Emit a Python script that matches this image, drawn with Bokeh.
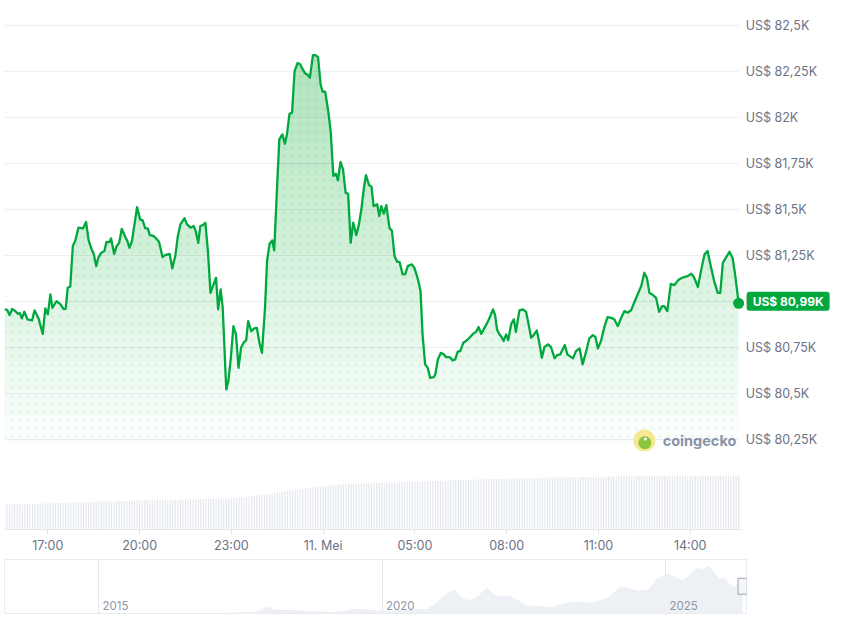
import numpy as np
from bokeh.plotting import figure
from bokeh.models import Range1d, FixedTicker
from bokeh.layouts import column
from bokeh.embed import file_html
from bokeh.resources import INLINE
from bokeh.core.properties import value

# ---------------- data ----------------
START = "2026-05-10 15:35"  # t_min = minutes after this moment
t_min = [0,5,10,15,21,26,30,34,39,45,54,59,67,75,80,85,90,94,102,110,116,120,124,129,134,139,145,154,160,165,
         171,175,180,184,190,196,200,206,209,215,220,225,230,237,241,245,250,255,260,266,271,276,281,285,292,297,303,310,315,324,
         329,335,340,345,353,358,365,371,375,380,384,389,394,399,404,410,415,419,424,428,435,439,444,449,454,459,464,469,474,478,
         484,490,495,500,505,511,515,520,525,529,534,539,545,550,554,559,564,569,575,580,585,590,594,599,605,610,615,620,624,629,
         635,640,645,650,654,659,664,669,674,679,684,690,695,700,705,709,715,720,724,731,735,739,744,749,755,760,765,770,775,781,
         786,791,799,804,811,816,820,825,830,835,842,845,850,856,862,866,873,879,884,889,894,900,905,912,919,925,930,935,941,948,
         953,958,962,966,971,975,979,984,988,994,999,1003,1010,1017,1023,1028,1033,1038,1044,1049,1054,1059,1066,1072,1079,1084,1090,
         1099,1104,1109,1115,1121,1128,1134,1141,1147,1154,1159,1164,1170,1177,1183,1190,1196,1203,1209,1216,
         1222,1229,1235,1242,1249,1255,1260,1265,1272,1278,1284,1290,1294,1300,1307,1314,1321,1327,1334,1340,
         1347,1351,1355,1360,1366,1373,1379,1386,1392,1399,1404,1409,1415,1422,1428,1433,1440]
price = [80957,80955,80926,80959,80948,80933,80937,80908,80944,80903,80897,80952,80906,80824,80962,80930,81039,80966,81002,80984,
         80959,80960,81074,81082,81301,81332,81401,81397,81432,81332,81283,81259,81192,81238,81265,81274,81324,81323,81343,81259,
         81301,81319,81395,81350,81328,81292,81328,81419,81513,81446,81441,81397,81397,81361,81357,81343,81324,81241,81252,81259,
         81180,81247,81355,81419,81452,81419,81401,81410,81383,81319,81410,81415,81428,81274,81047,81093,81129,80957,81066,80966,
         80522,80567,80694,80866,80821,80640,80748,80776,80789,80893,80839,80854,80857,80776,80721,80966,81220,81314,81332,81278,
         81582,81881,81908,81857,81908,82020,82026,82252,82296,82289,82261,82238,82234,82216,82339,82339,82328,82180,82140,82140,
         82035,81917,81682,81694,81658,81759,81718,81591,81585,81319,81428,81361,81415,81501,81618,81687,81633,81623,81518,81529,
         81464,81518,81477,81524,81401,81383,81247,81216,81214,81147,81149,81192,81202,81183,81120,81057,80821,80658,80640,80585,
         80589,80604,80685,80721,80712,80698,80698,80680,80685,80727,80730,80776,80785,80803,80824,80835,80861,80824,80854,80890,
         80921,80957,80930,80848,80821,80807,80785,80821,80790,80879,80903,80835,80952,80957,80944,80876,80803,80817,80843,80776,
         80694,80752,80767,80752,80691,80709,80712,
         80763,80712,80703,80691,80730,80745,80658,80730,80799,80817,80807,80745,80785,80866,80915,80911,80903,80866,80908,80948,
         80939,80952,80993,81039,81084,81156,81129,81047,81035,81020,80944,80975,80975,80948,81096,81089,81115,81126,81134,81138,
         81151,81138,81115,81078,81165,81256,81274,81183,81111,81047,81047,81210,81238,81270,81238,81147,80990]

# 24h volume (billion US$), one bar every 5 minutes
volume_b = [12.6,12.7,12.6,12.8,12.7,12.7,12.8,12.6,12.7,12.8,12.8,12.7,
            12.9,12.8,13.0,12.9,13.1,13.0,13.2,13.1,13.0,13.2,13.3,13.2,
            13.4,13.3,13.5,13.6,13.4,13.6,13.7,13.6,13.8,13.7,13.8,13.9,
            13.8,14.0,13.9,14.1,14.0,14.2,14.1,14.0,14.2,14.3,14.2,14.3,
            14.4,14.3,14.5,14.4,14.6,14.5,14.4,14.6,14.7,14.6,14.7,14.6,
            14.8,14.7,14.8,14.9,14.8,15.0,14.9,15.0,14.9,15.1,15.0,15.1,
            15.0,15.2,15.1,15.0,15.2,15.3,15.1,15.2,15.3,15.2,15.4,15.3,
            15.4,15.5,15.3,15.6,15.5,15.7,15.8,15.6,15.9,16.0,16.1,16.3,
            16.5,16.7,16.9,17.0,17.2,17.4,17.3,17.6,17.8,18.0,18.3,18.5,
            18.8,18.9,19.1,19.3,19.4,19.6,19.8,19.9,20.1,20.2,20.4,20.6,
            20.8,21.0,21.2,21.3,21.5,21.6,21.8,21.9,22.0,22.2,22.3,22.4,
            22.5,22.6,22.6,22.7,22.8,22.8,22.9,22.9,23.0,23.0,23.1,23.1,
            23.1,23.2,23.2,23.3,23.3,23.2,23.4,23.4,23.5,23.4,23.5,23.6,
            23.6,23.7,23.7,23.8,23.8,23.9,23.9,24.0,24.0,24.1,24.1,24.2,
            24.3,24.3,24.4,24.4,24.5,24.5,24.6,24.6,24.7,24.7,24.8,24.8,
            24.8,24.9,24.9,24.9,25.0,25.0,25.0,25.1,25.0,25.1,25.1,25.2,
            25.2,25.2,25.3,25.3,25.4,25.3,25.4,25.5,25.5,25.5,25.6,25.6,
            25.6,25.7,25.7,25.7,25.8,25.8,25.8,25.9,25.9,25.9,25.9,26.0,
            26.0,26.0,26.1,26.1,26.0,26.1,26.2,26.2,26.1,26.2,26.2,26.3,
            26.3,26.3,26.2,26.3,26.4,26.4,26.3,26.4,26.4,26.5,26.4,26.5,
            26.5,26.5,26.6,26.5,26.6,26.6,26.5,26.6,26.7,26.6,26.6,26.7,
            26.7,26.6,26.7,26.7,26.6,26.7,26.8,26.7,26.7,26.8,26.7,26.7,
            26.8,26.7,26.8,26.8,26.7,26.8,26.9,26.8,26.8,26.7,26.8,26.9,
            26.8,26.8,26.9,26.8,26.9,26.8,26.8,26.9,26.9,26.8,26.9,26.9,
            26.9]
vol_t = [5 * i for i in range(len(volume_b))]

x_tick_min = [85, 265, 445, 625, 805, 985, 1165, 1345]
x_tick_labels = ["17:00", "20:00", "23:00", "11. Mei", "05:00", "08:00", "11:00", "14:00"]
y_ticks = [80250, 80500, 80750, 81000, 81250, 81500, 81750, 82000, 82250, 82500]
y_tick_labels = ["US$ 80,25K", "US$ 80,5K", "US$ 80,75K", "US$ 81K", "US$ 81,25K",
                 "US$ 81,5K", "US$ 81,75K", "US$ 82K", "US$ 82,25K", "US$ 82,5K"]
last_label = "US$ 80,99K"

# navigator: full price history (year, thousand US$)
nav_year = [2013.33, 2013.5, 2013.75, 2013.92, 2014.0, 2014.2, 2014.5, 2014.8, 2015.0, 2015.5,
            2015.9, 2016.3, 2016.5, 2016.9, 2017.2, 2017.4, 2017.6, 2017.8, 2017.96, 2018.1,
            2018.3, 2018.6, 2018.9, 2019.1, 2019.3, 2019.5, 2019.7, 2019.9, 2020.2, 2020.4,
            2020.6, 2020.8, 2020.96, 2021.1, 2021.28, 2021.4, 2021.55, 2021.7, 2021.85, 2022.0,
            2022.25, 2022.45, 2022.55, 2022.8, 2022.9, 2023.0, 2023.25, 2023.5, 2023.7, 2023.9,
            2024.0, 2024.2, 2024.35, 2024.5, 2024.7, 2024.85, 2024.96, 2025.05, 2025.15, 2025.3,
            2025.4, 2025.55, 2025.65, 2025.77, 2025.85, 2025.95, 2026.05, 2026.12, 2026.2, 2026.28, 2026.36]
nav_price_k = [0.12, 0.1, 0.14, 1.0, 0.8, 0.5, 0.6, 0.4, 0.3, 0.25,
               0.4, 0.42, 0.65, 0.75, 1.1, 2.0, 2.6, 5.0, 17.0, 10.0,
               8.5, 7.0, 5.5, 3.6, 5.2, 11.5, 9.8, 7.3, 5.8, 9.0,
               9.5, 11.5, 27.0, 48.0, 62.0, 40.0, 33.0, 46.0, 66.0, 46.0,
               45.0, 30.0, 21.0, 19.5, 17.0, 16.6, 28.0, 30.0, 26.5, 37.0,
               43.0, 68.0, 66.0, 58.0, 62.0, 90.0, 97.0, 102.0, 96.0, 84.0,
               96.0, 117.0, 113.0, 123.0, 108.0, 90.0, 93.0, 78.0, 68.0, 76.0, 81.0]
nav_ticks = [2015, 2020, 2025]
nav_tick_labels = ["2015", "2020", "2025"]

# ---------------- styling ----------------
GREEN = "#00a83e"
TXT = "#6b7386"
GRID = "#eceef2"
FONT = "Inter"
FILL_BASE = 80230

p = figure(frame_width=830, frame_height=521,
           x_range=Range1d(0, 1628), y_range=Range1d(79761, 82592),
           y_axis_location=None, output_backend="svg", toolbar_location=None,
           min_border_left=4, min_border_top=8, min_border_right=0, min_border_bottom=30)
p.outline_line_color = None
p.grid.visible = False
p.extra_y_ranges = {"vol": Range1d(0, 260.5)}

# horizontal grid lines, over the span of the data
p.segment(x0=t_min[0], x1=t_min[-1], y0=y_ticks, y1=y_ticks, line_color=GRID, line_width=1)

# volume bars
p.vbar(x=vol_t, top=volume_b, bottom=0, width=2.2, y_range_name="vol",
       fill_color="#e2e6ed", line_color=None)

# gradient area (stacked translucent layers)
pr = np.array(price, dtype=float)
p.varea(x=t_min, y1=pr, y2=FILL_BASE, fill_color=GREEN, fill_alpha=0.015)
for L in np.linspace(FILL_BASE, 82450, 16)[1:]:
    p.varea(x=t_min, y1=np.maximum(pr, L), y2=L, fill_color=GREEN, fill_alpha=0.024)
p.varea(x=t_min, y1=pr, y2=FILL_BASE, fill_alpha=0, hatch_pattern=".",
        hatch_color=GREEN, hatch_alpha=0.06, hatch_scale=8, hatch_weight=1.5)

p.line(t_min, price, line_color=GREEN, line_width=2.3, line_join="round")
p.scatter([t_min[-1]], [price[-1]], size=11, fill_color=GREEN, line_color=None)

# price labels at the right of the data
p.text(x=[t_min[-1]] * len(y_ticks), y=y_ticks, text=y_tick_labels, x_offset=7,
       text_font=value(FONT), text_font_size="12.5px", text_color=TXT,
       text_baseline="middle", text_align="left")

# current price badge
p.text(x=[t_min[-1]], y=[price[-1]], text=[last_label], x_offset=8, y_offset=-2,
       text_font=value(FONT), text_font_size="12px", text_font_style="bold",
       text_color="white", text_baseline="middle", text_align="left",
       background_fill_color=GREEN, border_radius=3,
       padding=dict(left=6, right=6, top=2, bottom=2))

# x axis (time)
p.xaxis.bounds = (0, 1448)
p.xaxis.ticker = FixedTicker(ticks=x_tick_min)
p.xaxis.major_label_overrides = dict(zip(x_tick_min, x_tick_labels))
p.xaxis.axis_line_color = "#e3e6eb"
p.xaxis.major_tick_line_color = "#e3e6eb"
p.xaxis.major_tick_out = 5
p.xaxis.major_tick_in = 0
p.xaxis.minor_tick_line_color = None
p.xaxis.major_label_standoff = 3
p.xaxis.major_label_text_font = FONT
p.xaxis.major_label_text_font_size = "12.5px"
p.xaxis.major_label_text_color = TXT

# coingecko watermark
LOGO_T, LOGO_P, LOGO_TEXT_T = 1255, 80245, 1291
p.scatter([LOGO_T], [LOGO_P], size=22, fill_color="#f6e896", line_color=None)
p.scatter([LOGO_T + 1], [LOGO_P - 12], size=13, fill_color="#8cc63f", line_color=None)
p.scatter([LOGO_T + 2], [LOGO_P + 8], size=3, fill_color="white", line_color=None)
p.text(x=[LOGO_TEXT_T], y=[LOGO_P], text=["coingecko"], text_font=value(FONT),
       text_font_size="14.5px", text_font_style="bold", text_color="#8a93a6",
       text_baseline="middle", text_align="left")

# ---------------- navigator ----------------
nav = figure(frame_width=742, frame_height=54,
             x_range=Range1d(2013.34, 2026.43), y_range=Range1d(-0.5, 139),
             output_backend="svg", toolbar_location=None,
             min_border_left=4, min_border_top=0, min_border_right=88, min_border_bottom=4)
nav.outline_line_color = "#e8ebef"
nav.xaxis.visible = False
nav.yaxis.visible = False
nav.ygrid.visible = False
nav.xgrid.ticker = FixedTicker(ticks=nav_ticks)
nav.xgrid.grid_line_color = "#e4e7ec"
nav.varea(x=nav_year, y1=nav_price_k, y2=0, fill_color="#edf0f4")
NAV_LABEL_Y = 20
nav.text(x=nav_ticks, y=[NAV_LABEL_Y] * len(nav_ticks), text=nav_tick_labels, x_offset=4,
         text_font=value(FONT), text_font_size="11.5px", text_color="#8e97a7",
         text_baseline="middle", text_align="left")
HANDLE_Y = 70
nav.rect(x=[nav_year[-1]], y=[HANDLE_Y], width=9, height=16, width_units="screen",
         height_units="screen", fill_color="#f4f5f7", line_color="#9aa1ad", line_width=1)

layout = column(p, nav)
open("out.html", "w").write(file_html(layout, INLINE))
